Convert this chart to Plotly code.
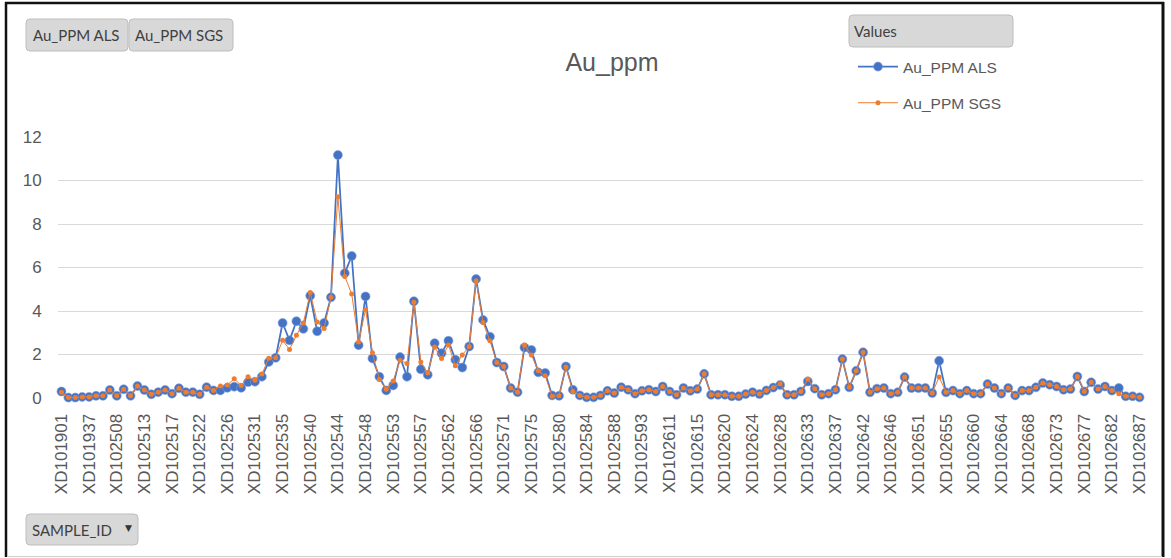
import plotly.graph_objects as go

# ---------------- data ----------------
SAMPLE_IDS = [
    "XD101901", "XD101910", "XD101919", "XD101928", "XD101937", "XD101955", "XD102505", "XD102507",
    "XD102508", "XD102509", "XD102510", "XD102511", "XD102513", "XD102514", "XD102515", "XD102516",
    "XD102517", "XD102518", "XD102519", "XD102520", "XD102522", "XD102523", "XD102524", "XD102525",
    "XD102526", "XD102527", "XD102528", "XD102529", "XD102531", "XD102532", "XD102533", "XD102534",
    "XD102535", "XD102536", "XD102537", "XD102538", "XD102540", "XD102541", "XD102542", "XD102543",
    "XD102544", "XD102545", "XD102546", "XD102547", "XD102548", "XD102549", "XD102551", "XD102552",
    "XD102553", "XD102554", "XD102555", "XD102556", "XD102557", "XD102558", "XD102559", "XD102561",
    "XD102562", "XD102563", "XD102564", "XD102565", "XD102566", "XD102567", "XD102568", "XD102569",
    "XD102571", "XD102572", "XD102573", "XD102574", "XD102575", "XD102576", "XD102577", "XD102578",
    "XD102580", "XD102581", "XD102582", "XD102583", "XD102584", "XD102585", "XD102586", "XD102587",
    "XD102588", "XD102589", "XD102591", "XD102592", "XD102593", "XD102594", "XD102595", "XD102596",
    "XD102611", "XD102612", "XD102613", "XD102614", "XD102615", "XD102616", "XD102617", "XD102618",
    "XD102620", "XD102621", "XD102622", "XD102623", "XD102624", "XD102625", "XD102626", "XD102627",
    "XD102628", "XD102629", "XD102631", "XD102632", "XD102633", "XD102634", "XD102635", "XD102636",
    "XD102637", "XD102638", "XD102639", "XD102641", "XD102642", "XD102643", "XD102644", "XD102645",
    "XD102646", "XD102647", "XD102648", "XD102649", "XD102651", "XD102652", "XD102653", "XD102654",
    "XD102655", "XD102656", "XD102657", "XD102658", "XD102660", "XD102661", "XD102662", "XD102663",
    "XD102664", "XD102665", "XD102666", "XD102667", "XD102668", "XD102669", "XD102671", "XD102672",
    "XD102673", "XD102674", "XD102675", "XD102676", "XD102677", "XD102678", "XD102679", "XD102681",
    "XD102682", "XD102683", "XD102684", "XD102686", "XD102687",
]

TICK_LABELS = [
    "XD101901", "XD101937", "XD102508", "XD102513", "XD102517", "XD102522", "XD102526", "XD102531",
    "XD102535", "XD102540", "XD102544", "XD102548", "XD102553", "XD102557", "XD102562", "XD102566",
    "XD102571", "XD102575", "XD102580", "XD102584", "XD102588", "XD102593", "XD102611", "XD102615",
    "XD102620", "XD102624", "XD102628", "XD102633", "XD102637", "XD102642", "XD102646", "XD102651",
    "XD102655", "XD102660", "XD102664", "XD102668", "XD102673", "XD102677", "XD102682", "XD102687",
]

AU_PPM_ALS = [
    0.30, 0.02, 0.02, 0.05, 0.05, 0.10, 0.10, 0.37, 0.10, 0.40,
    0.10, 0.55, 0.37, 0.17, 0.27, 0.37, 0.20, 0.45, 0.27, 0.27,
    0.17, 0.50, 0.35, 0.35, 0.47, 0.52, 0.47, 0.73, 0.75, 0.98,
    1.66, 1.85, 3.45, 2.65, 3.53, 3.18, 4.70, 3.07, 3.45, 4.63,
    11.17, 5.74, 6.53, 2.43, 4.67, 1.82, 0.98, 0.35, 0.58, 1.88,
    0.98, 4.45, 1.32, 1.07, 2.52, 2.06, 2.63, 1.76, 1.40, 2.37,
    5.47, 3.59, 2.82, 1.63, 1.45, 0.46, 0.27, 2.32, 2.21, 1.18,
    1.15, 0.12, 0.10, 1.45, 0.38, 0.12, 0.03, 0.03, 0.12, 0.33,
    0.23, 0.50, 0.38, 0.20, 0.33, 0.38, 0.30, 0.53, 0.30, 0.15,
    0.46, 0.33, 0.41, 1.11, 0.15, 0.15, 0.15, 0.08, 0.08, 0.18,
    0.27, 0.18, 0.35, 0.48, 0.60, 0.15, 0.15, 0.30, 0.76, 0.43,
    0.15, 0.20, 0.38, 1.79, 0.49, 1.25, 2.10, 0.26, 0.43, 0.46,
    0.20, 0.26, 0.96, 0.46, 0.46, 0.46, 0.23, 1.71, 0.26, 0.34,
    0.20, 0.34, 0.20, 0.20, 0.64, 0.46, 0.20, 0.46, 0.12, 0.34,
    0.34, 0.49, 0.69, 0.61, 0.53, 0.38, 0.41, 0.99, 0.30, 0.72,
    0.41, 0.53, 0.34, 0.46, 0.08, 0.08, 0.03,
]

AU_PPM_SGS = [
    0.27, 0.02, 0.02, 0.05, 0.05, 0.10, 0.10, 0.37, 0.10, 0.40,
    0.10, 0.55, 0.37, 0.17, 0.27, 0.37, 0.20, 0.45, 0.27, 0.27,
    0.17, 0.50, 0.35, 0.55, 0.60, 0.88, 0.58, 0.98, 0.82, 1.10,
    1.83, 1.85, 2.65, 2.23, 2.88, 3.45, 4.85, 3.50, 3.20, 4.63,
    9.25, 5.59, 4.78, 2.58, 4.06, 2.08, 0.85, 0.40, 0.78, 1.73,
    1.59, 4.40, 1.65, 1.15, 2.34, 1.82, 2.44, 1.48, 1.98, 2.37,
    5.39, 3.47, 2.63, 1.63, 1.45, 0.46, 0.27, 2.44, 1.98, 1.25,
    1.02, 0.08, 0.10, 1.42, 0.30, 0.12, 0.03, 0.03, 0.12, 0.33,
    0.23, 0.50, 0.38, 0.20, 0.33, 0.38, 0.30, 0.53, 0.30, 0.15,
    0.46, 0.33, 0.41, 1.11, 0.15, 0.15, 0.15, 0.08, 0.08, 0.18,
    0.27, 0.18, 0.35, 0.48, 0.66, 0.15, 0.15, 0.30, 0.87, 0.43,
    0.15, 0.20, 0.38, 1.79, 0.49, 1.25, 2.10, 0.26, 0.43, 0.46,
    0.20, 0.26, 0.96, 0.46, 0.46, 0.46, 0.23, 0.96, 0.26, 0.34,
    0.20, 0.34, 0.20, 0.20, 0.64, 0.46, 0.20, 0.46, 0.12, 0.34,
    0.34, 0.49, 0.69, 0.61, 0.53, 0.38, 0.41, 0.99, 0.30, 0.72,
    0.41, 0.53, 0.34, 0.20, 0.08, 0.08, 0.03,
]

Y_TICKS = [0, 2, 4, 6, 8, 10, 12]

# ---------------- layout geometry ----------------
W, H = 1171, 558
L, R, T, B = 58, 28, 137, 160
PW, PH = W - L - R, H - T - B


def px(x):
    return (x - L) / PW


def py(y):
    return (H - B - y) / PH


def rrect_path(x0, y0, x1, y1, r=4):
    pts = [
        f"M{px(x0 + r)},{py(y0)}",
        f"L{px(x1 - r)},{py(y0)}",
        f"Q{px(x1)},{py(y0)} {px(x1)},{py(y0 + r)}",
        f"L{px(x1)},{py(y1 - r)}",
        f"Q{px(x1)},{py(y1)} {px(x1 - r)},{py(y1)}",
        f"L{px(x0 + r)},{py(y1)}",
        f"Q{px(x0)},{py(y1)} {px(x0)},{py(y1 - r)}",
        f"L{px(x0)},{py(y0 + r)}",
        f"Q{px(x0)},{py(y0)} {px(x0 + r)},{py(y0)}",
        "Z",
    ]
    return " ".join(pts)


TXT = "#595959"
BTN_TXT = "#404040"
FONT = "Liberation Sans"
BTN_FONT = "Lato"

fig = go.Figure()

fig.add_trace(go.Scatter(
    x=SAMPLE_IDS, y=AU_PPM_ALS, name="Au_PPM ALS", mode="lines+markers",
    line=dict(color="#4472C4", width=1.75),
    marker=dict(color="#4472C4", size=9, line=dict(color="#7f9fdc", width=0.6)),
    cliponaxis=False, legendgroup="a",
))
fig.add_trace(go.Scatter(
    x=SAMPLE_IDS, y=AU_PPM_SGS, name="Au_PPM SGS", mode="lines+markers",
    line=dict(color="#ED7D31", width=1),
    marker=dict(color="#ED7D31", size=5),
    cliponaxis=False, legendgroup="b",
))

shapes = []
# outer frame (screenshot border)
shapes.append(dict(type="line", xref="paper", yref="paper", x0=px(6), x1=px(6), y0=py(2), y1=py(557),
                   line=dict(color="#111111", width=2.5)))
shapes.append(dict(type="line", xref="paper", yref="paper", x0=px(5), x1=px(1164), y0=py(3), y1=py(3),
                   line=dict(color="#111111", width=2.5)))
shapes.append(dict(type="line", xref="paper", yref="paper", x0=px(1163), x1=px(1163), y0=py(2), y1=py(557),
                   line=dict(color="#111111", width=3)))
shapes.append(dict(type="line", xref="paper", yref="paper", x0=px(7), x1=px(1162), y0=py(556.5), y1=py(556.5),
                   line=dict(color="#cfcfcf", width=1)))

buttons = [
    (26, 19, 128, 51),
    (129, 19, 233, 51),
    (849, 15, 1013, 47),
    (26, 514, 138, 545),
]
for (x0, y0, x1, y1) in buttons:
    shapes.append(dict(type="path", xref="paper", yref="paper", path=rrect_path(x0, y0, x1, y1, 4),
                       fillcolor="#d8d8d8", line=dict(color="#bdbdbd", width=1), layer="below"))

annotations = [
    dict(text="Au_PPM ALS", x=px(31), y=py(35), xanchor="left", yanchor="middle"),
    dict(text="Au_PPM SGS", x=px(133), y=py(35), xanchor="left", yanchor="middle"),
    dict(text="Values", x=px(852), y=py(31), xanchor="left", yanchor="middle"),
    dict(text="SAMPLE_ID", x=px(30), y=py(530), xanchor="left", yanchor="middle"),
]
for a in annotations:
    a.update(xref="paper", yref="paper", showarrow=False,
             font=dict(family=BTN_FONT, size=15, color=BTN_TXT))
annotations.append(dict(text="▼", x=px(128), y=py(528), xref="paper", yref="paper", showarrow=False,
                        xanchor="center", yanchor="middle",
                        font=dict(family="DejaVu Sans", size=9, color="#333333")))

fig.update_layout(
    width=W, height=H,
    margin=dict(l=L, r=R, t=T, b=B, autoexpand=False),
    paper_bgcolor="white", plot_bgcolor="white",
    title=dict(text="Au_ppm", x=612 / W, y=1 - 62 / H, xref="container", yref="container",
               xanchor="center", yanchor="middle",
               font=dict(family=FONT, size=25, color=TXT)),
    legend=dict(x=px(853), y=py(50), xanchor="left", yanchor="top",
                font=dict(family=FONT, size=15.5, color=TXT),
                tracegroupgap=13, itemwidth=40, bgcolor="rgba(0,0,0,0)"),
    showlegend=True,
    shapes=shapes,
    annotations=annotations,
    hovermode=False,
)

fig.update_xaxes(
    type="category", categoryorder="array", categoryarray=SAMPLE_IDS,
    range=[-0.5, len(SAMPLE_IDS) - 0.5],
    tickmode="array", tickvals=TICK_LABELS, ticktext=TICK_LABELS,
    tickangle=-90, ticks="outside", ticklen=8, tickcolor="rgba(0,0,0,0)",
    tickfont=dict(family=FONT, size=17, color=TXT),
    showgrid=False, showline=False, zeroline=False,
)
fig.update_yaxes(
    range=[0, 12], tickmode="array", tickvals=Y_TICKS,
    ticks="outside", ticklen=12, tickcolor="rgba(0,0,0,0)",
    tickfont=dict(family=FONT, size=17, color=TXT),
    showgrid=True, gridcolor="#d9d9d9", gridwidth=1,
    zeroline=False, showline=False,
)

fig.write_html(
    "out.html",
    config=dict(displayModeBar=False),
    post_script="document.body.style.margin='0';document.body.style.overflow='hidden';",
)
